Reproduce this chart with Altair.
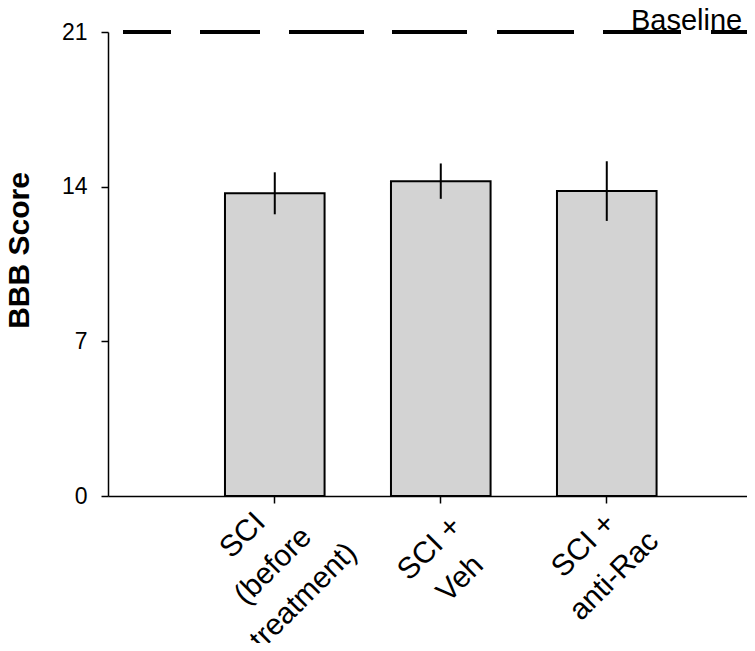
import altair as alt
import pandas as pd

# ---- data ----
categories = ["SCI|(before|treatment)", "SCI +|Veh", "SCI +|anti-Rac"]
means = [13.7, 14.25, 13.8]
errors = [0.95, 0.8, 1.35]
baseline_value = [21]
baseline_label = ["Baseline"]
y_ticks = [0, 7, 14, 21]

W, H = 639, 464
FONT = "Liberation Sans"

df = pd.DataFrame({"group": categories, "mean": means, "err": errors})
df["lo"] = df["mean"] - df["err"]
df["hi"] = df["mean"] + df["err"]

base_df = pd.DataFrame({"value": baseline_value, "label": baseline_label})

is_first = f"datum.value == '{categories[0]}'"
is_third = f"datum.value == '{categories[2]}'"

x_enc = alt.X(
    "group:N",
    sort=categories,
    scale=alt.Scale(paddingInner=0.4, paddingOuter=0.6247, align=0.564),
    axis=alt.Axis(
        title=None,
        labelExpr="split(datum.label, '|')",
        labelAngle=-45,
        labelAlign="center",
        labelBaseline="middle",
        labelFontSize=30,
        labelFont=FONT,
        labelColor="black",
        labelLineHeight=43,
        labelPadding={
            "condition": [
                {"test": is_first, "value": 32},
                {"test": is_third, "value": 42},
            ],
            "value": 45,
        },
        labelOffset={
            "condition": [
                {"test": is_first, "value": -32},
                {"test": is_third, "value": -23},
            ],
            "value": -11,
        },
        labelLimit=500,
        tickSize=7,
        tickColor="black",
        tickWidth=1.5,
        domainColor="black",
        domainWidth=1.5,
    ),
)

y_scale = alt.Scale(domain=[0, 21], nice=False, zero=True)
y_axis = alt.Axis(
    title="BBB Score",
    values=y_ticks,
    tickSize=7,
    tickColor="black",
    tickWidth=1.5,
    domainColor="black",
    domainWidth=1.5,
    labelFontSize=23,
    labelFont=FONT,
    labelColor="black",
    labelPadding=14,
    titleFont=FONT,
    titleFontSize=30,
    titleFontWeight="bold",
    titleColor="black",
    titleAngle=-90,
    titleAlign="center",
    titleBaseline="middle",
    titleX=-89,
    titleY=218,
)

bars = alt.Chart(df).mark_bar(
    fill="#d3d3d3", stroke="black", strokeWidth=2
).encode(
    x=x_enc,
    y=alt.Y("mean:Q", scale=y_scale, axis=y_axis),
)

err = alt.Chart(df).mark_rule(color="black", strokeWidth=2).encode(
    x=alt.X("group:N", sort=categories),
    y=alt.Y("lo:Q"),
    y2="hi:Q",
)

base_rule = alt.Chart(base_df).mark_rule(
    color="black",
    strokeWidth=4,
    strokeDash=[48, 29, 60, 29, 75, 28, 75, 30, 77, 29, 78, 30, 80, 30],
).encode(
    y=alt.Y("value:Q"),
    x=alt.value(15),
    x2=alt.value(W),
)

base_text = alt.Chart(base_df).mark_text(
    align="left", baseline="alphabetic", fontSize=29, font=FONT, color="black"
).encode(
    text="label:N",
    x=alt.value(523),
    y=alt.value(-2),
)

chart = alt.layer(bars, err, base_rule, base_text).properties(
    width=W,
    height=H,
    padding={"left": 100, "top": 24, "right": 0, "bottom": 147},
    autosize=alt.AutoSizeParams(type="none"),
).configure_view(stroke=None).configure_axis(grid=False)

chart.save("out.html", embed_options={"renderer": "svg", "actions": False})
